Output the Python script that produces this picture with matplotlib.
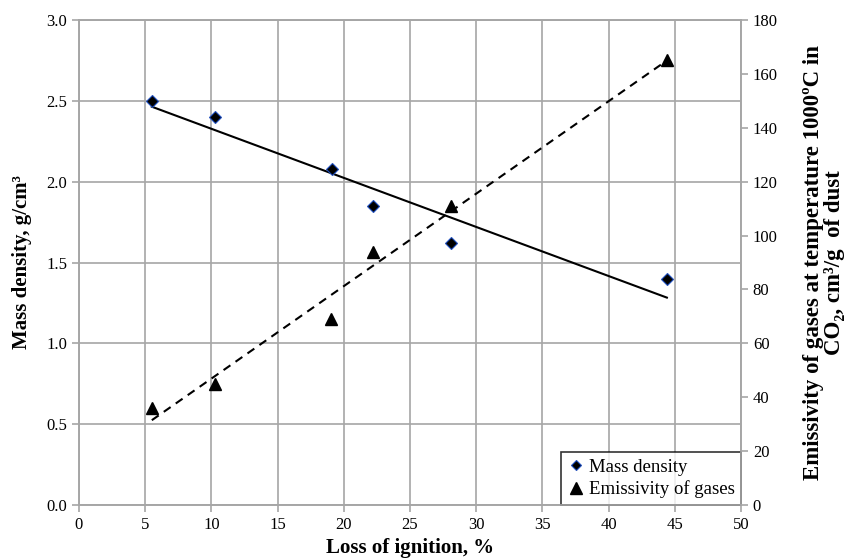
import numpy as np
import matplotlib
matplotlib.use("Agg")
import matplotlib.pyplot as plt

plt.rcParams["font.family"] = ["Liberation Serif", "DejaVu Serif"]

# Loss of ignition, %
loi_density = [5.5, 10.3, 19.1, 22.2, 28.1, 44.4]
mass_density = [2.50, 2.40, 2.08, 1.85, 1.62, 1.40]

loi_gas = [5.5, 10.3, 19.0, 22.2, 28.1, 44.4]
emissivity = [36, 45, 69, 94, 111, 165]

x_ticks = list(range(0, 55, 5))
left_ticks = [0.0, 0.5, 1.0, 1.5, 2.0, 2.5, 3.0]
right_ticks = list(range(0, 200, 20))

grid_col = "#a6a6a6"

fig = plt.figure(figsize=(8.44, 5.59), dpi=100)
ax = fig.add_axes([0.0936, 0.0966, 0.7844, 0.8676])
ax2 = ax.twinx()

# linear trend lines (as in the spreadsheet trendlines)
k1, b1 = np.polyfit(loi_density, mass_density, 1)
k2, b2 = np.polyfit(loi_gas, emissivity, 1)
xs1 = np.array([min(loi_density), max(loi_density)])
xs2 = np.array([min(loi_gas), max(loi_gas)])

ax.plot(xs1, k1 * xs1 + b1, color="black", lw=1.5, zorder=2)
ax2.plot(xs2, k2 * xs2 + b2, color="black", lw=1.5, ls=(0, (4, 3)), zorder=2)

h1, = ax.plot(loi_density, mass_density, ls="none", marker="D", ms=6,
              mfc="black", mec="#1f4fbf", mew=0.8, zorder=3, label="Mass density")
h2, = ax2.plot(loi_gas, emissivity, ls="none", marker="^", ms=9,
               color="black", zorder=3, label="Emissivity of gases")

ax.set_xlim(0, 50)
ax.set_ylim(0, 3.0)
ax2.set_ylim(0, 180)
ax.set_xticks(x_ticks)
ax.set_yticks(left_ticks)
ax.set_yticklabels([f"{v:.1f}" for v in left_ticks])
ax2.set_yticks(right_ticks)

ax.grid(True, color=grid_col, lw=1.2)
ax.set_axisbelow(True)
for a in (ax, ax2):
    for s in a.spines.values():
        s.set_color(grid_col)
        s.set_linewidth(1.2)
    a.tick_params(axis="both", colors=grid_col, labelcolor="black",
                  labelsize=12, length=5, width=1.2)

ax.set_xlabel("Loss of ignition, %", fontsize=15, fontweight="bold", labelpad=4)
ax.set_ylabel("Mass density, g/cm³", fontsize=15, fontweight="bold", labelpad=10)
ax2.set_ylabel("Emissivity of gases at temperature 1000ºC in\nCO₂, cm³/g  of dust",
               fontsize=16.5, fontweight="bold", rotation=90, labelpad=18,
               linespacing=1.0)

leg = ax.legend(handles=[h1, h2], loc="lower right", fontsize=13.5,
                frameon=True, fancybox=False, borderaxespad=0.0,
                handlelength=0.9, handletextpad=0.2, borderpad=0.35,
                labelspacing=0.25, markerscale=0.9)
leg.get_frame().set_edgecolor("black")
leg.get_frame().set_linewidth(1.2)
leg.set_zorder(5)

fig.savefig("out.png", dpi=100)
